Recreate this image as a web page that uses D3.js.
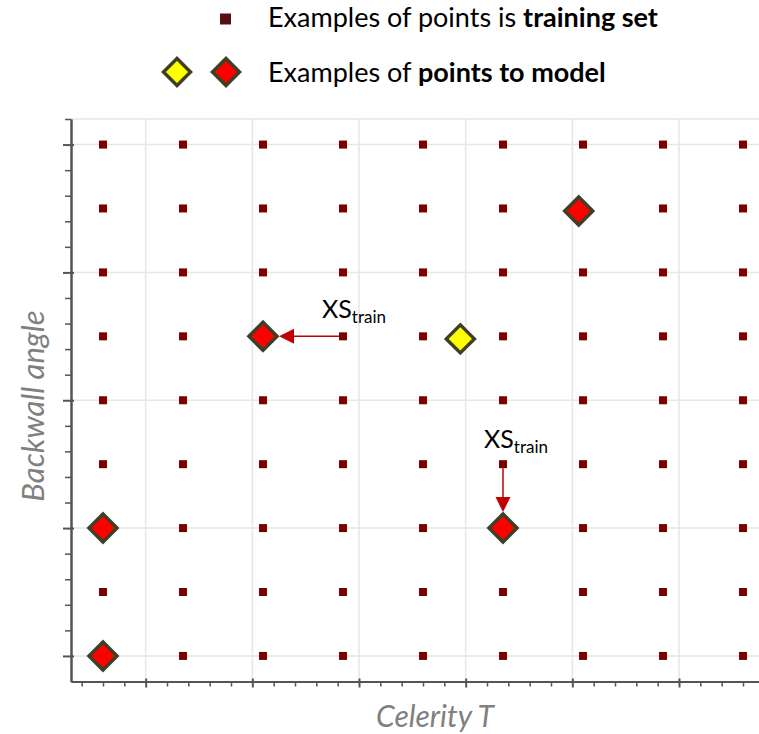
<!DOCTYPE html>
<html>
<head>
<meta charset="utf-8">
<script src="https://cdn.jsdelivr.net/npm/d3@7"></script>
<style>
  html, body { margin: 0; padding: 0; background: #ffffff; }
  svg { display: block; font-family: Lato, "Open Sans", sans-serif; }
</style>
</head>
<body>
<svg id="chart" width="759" height="734"></svg>
<script>
// ---- data ----
const trainColumns = [3, 6.75, 10.5, 14.25, 18, 21.75, 25.5, 29.25, 33];   // Celerity T positions of training points
const trainRows = [5, 7.5, 10, 12.5, 15, 17.5, 20, 22.5, 25];              // Backwall angle positions of training points
const modelX = [3, 3, 10.5, 21.75, 25.3, 19.75];                           // points to model
const modelY = [10, 5, 17.5, 10, 22.4, 17.4];
const modelKind = ["red", "red", "red", "red", "red", "yellow"];
const arrowFromX = [14.25, 21.75];
const arrowFromY = [17.5, 12.5];
const arrowToX = [10.5, 21.75];
const arrowToY = [17.5, 10];
const xMinorTicks = d3.range(2, 34);      // 2..33
const yMinorTicks = d3.range(5, 27);      // 5..26
const xMajorTicks = [5, 10, 15, 20, 25, 30];
const yMajorTicks = [5, 10, 15, 20, 25];
const xTitle = "Celerity T";
const yTitle = "Backwall angle";
const legendText1 = ["Examples of points is ", "training set"];
const legendText2 = ["Examples of ", "points to model"];

// ---- layout ----
const svg = d3.select("#chart");
const pLeft = 71, pRight = 759, pTop = 119, pBottom = 681.5;
const x = d3.scaleLinear().domain([1.5, 33.75]).range([pLeft, pRight]);
const y = d3.scaleLinear().domain([4, 26]).range([pBottom, pTop]);

const colors = { red: "#ff0000", yellow: "#ffff00" };
const diamondStroke = "#3f3f27";
const trainColor = "#7b0000";
const arrowColor = "#c00000";
const grey = "#808080";

// grid
const grid = svg.append("g");
grid.selectAll("line.v").data(xMajorTicks).join("line")
  .attr("x1", d => x(d)).attr("x2", d => x(d))
  .attr("y1", pTop).attr("y2", pBottom)
  .attr("stroke", "#e6e6e6").attr("stroke-width", 1.5);
grid.selectAll("line.h").data(yMajorTicks).join("line")
  .attr("y1", d => y(d)).attr("y2", d => y(d))
  .attr("x1", pLeft).attr("x2", pRight)
  .attr("stroke", "#e6e6e6").attr("stroke-width", 1.5);
grid.append("line").attr("x1", pLeft).attr("x2", pRight).attr("y1", pTop).attr("y2", pTop)
  .attr("stroke", "#e6e6e6").attr("stroke-width", 1.5);

// axes with d3 axis generators
const xAxisMinor = d3.axisBottom(x).tickValues(xMinorTicks.filter(v => v % 5 !== 0)).tickSize(5).tickFormat("").tickSizeOuter(0);
const xAxisMajor = d3.axisBottom(x).tickValues(xMajorTicks).tickSize(6).tickFormat("").tickSizeOuter(0);
const yAxisMinor = d3.axisLeft(y).tickValues(yMinorTicks.filter(v => v % 5 !== 0)).tickSize(6).tickFormat("").tickSizeOuter(0);
const yAxisMajor = d3.axisLeft(y).tickValues(yMajorTicks).tickSize(8).tickFormat("").tickSizeOuter(0);

function styleAxis(g) {
  g.select(".domain").attr("stroke", "#555").attr("stroke-width", 2);
  g.selectAll(".tick line").attr("stroke", "#555").attr("stroke-width", 1.5);
}
svg.append("g").attr("transform", `translate(0,${pBottom})`).call(xAxisMinor).call(styleAxis);
svg.append("g").attr("transform", `translate(0,${pBottom})`).call(xAxisMajor).call(styleAxis)
  .selectAll(".tick line").attr("y1", -3).attr("stroke-width", 2);
svg.append("g").attr("transform", `translate(${pLeft},0)`).call(yAxisMinor).call(styleAxis);
svg.append("g").attr("transform", `translate(${pLeft},0)`).call(yAxisMajor).call(styleAxis)
  .selectAll(".tick line").attr("x1", 3).attr("stroke-width", 2);

// training points
const trainPts = [];
trainRows.forEach(r => trainColumns.forEach(c => trainPts.push({ c, r })));
const sq = 8;
svg.append("g").selectAll("rect").data(trainPts).join("rect")
  .attr("x", d => x(d.c) - sq / 2).attr("y", d => y(d.r) - sq / 2)
  .attr("width", sq).attr("height", sq)
  .attr("fill", trainColor);

// arrows
const arrows = arrowFromX.map((fx, i) => ({ fx, fy: arrowFromY[i], tx: arrowToX[i], ty: arrowToY[i] }));
const gap = 4, tipOff = 16, headLen = 15, headHalf = 7.5;
const ag = svg.append("g");
arrows.forEach(a => {
  const x0 = x(a.fx), y0 = y(a.fy), x1 = x(a.tx), y1 = y(a.ty);
  const dx = x1 - x0, dy = y1 - y0, L = Math.hypot(dx, dy);
  const ux = dx / L, uy = dy / L;
  const sx = x0 + ux * gap, sy = y0 + uy * gap;
  const tipx = x1 - ux * tipOff, tipy = y1 - uy * tipOff;
  const bx = tipx - ux * headLen, by = tipy - uy * headLen;
  ag.append("line").attr("x1", sx).attr("y1", sy).attr("x2", bx).attr("y2", by)
    .attr("stroke", arrowColor).attr("stroke-width", 1.5);
  ag.append("path")
    .attr("d", `M${tipx},${tipy} L${bx - uy * headHalf},${by + ux * headHalf} L${bx + uy * headHalf},${by - ux * headHalf} Z`)
    .attr("fill", arrowColor);
});

// model points (diamonds)
const dsz = 14;
const diamond = (cx, cy, s) => `M${cx},${cy - s} L${cx + s},${cy} L${cx},${cy + s} L${cx - s},${cy} Z`;
const models = modelX.map((mx, i) => ({ mx, my: modelY[i], k: modelKind[i] }));
svg.append("g").selectAll("path").data(models).join("path")
  .attr("d", d => diamond(x(d.mx), y(d.my), dsz))
  .attr("fill", d => colors[d.k])
  .attr("stroke", diamondStroke).attr("stroke-width", 3.5).attr("stroke-linejoin", "miter");

// annotation labels
function xsLabel(px, py) {
  const t = svg.append("text").attr("x", px).attr("y", py)
    .attr("font-size", 25).attr("fill", "#000");
  t.append("tspan").text("XS");
  t.append("tspan").attr("font-size", 17).attr("dy", 5).text("train");
}
xsLabel(x(arrowFromX[0]) - 21, y(arrowFromY[0]) - 18);
xsLabel(x(arrowFromX[1]) - 19, y(arrowFromY[1]) - 16);

// axis titles
svg.append("text").attr("x", 435).attr("y", 727)
  .attr("text-anchor", "middle").attr("font-size", 30).attr("font-style", "italic")
  .attr("fill", grey).text(xTitle);
svg.append("text").attr("transform", `translate(44,406) rotate(-90)`)
  .attr("text-anchor", "middle").attr("font-size", 31).attr("font-style", "italic")
  .attr("fill", grey).text(yTitle);

// legend
svg.append("rect").attr("x", 220).attr("y", 13.5).attr("width", 11).attr("height", 11).attr("fill", "#5a0d10");
const l1 = svg.append("text").attr("x", 268).attr("y", 27).attr("font-size", 27).attr("fill", "#000");
l1.append("tspan").text(legendText1[0]);
l1.append("tspan").attr("font-weight", "bold").text(legendText1[1]);
svg.append("path").attr("d", diamond(177, 72, 13.5)).attr("fill", colors.yellow)
  .attr("stroke", diamondStroke).attr("stroke-width", 3.5);
svg.append("path").attr("d", diamond(226, 72, 13.5)).attr("fill", colors.red)
  .attr("stroke", diamondStroke).attr("stroke-width", 3.5);
const l2 = svg.append("text").attr("x", 268).attr("y", 82).attr("font-size", 27).attr("fill", "#000");
l2.append("tspan").text(legendText2[0]);
l2.append("tspan").attr("font-weight", "bold").text(legendText2[1]);
</script>
</body>
</html>
